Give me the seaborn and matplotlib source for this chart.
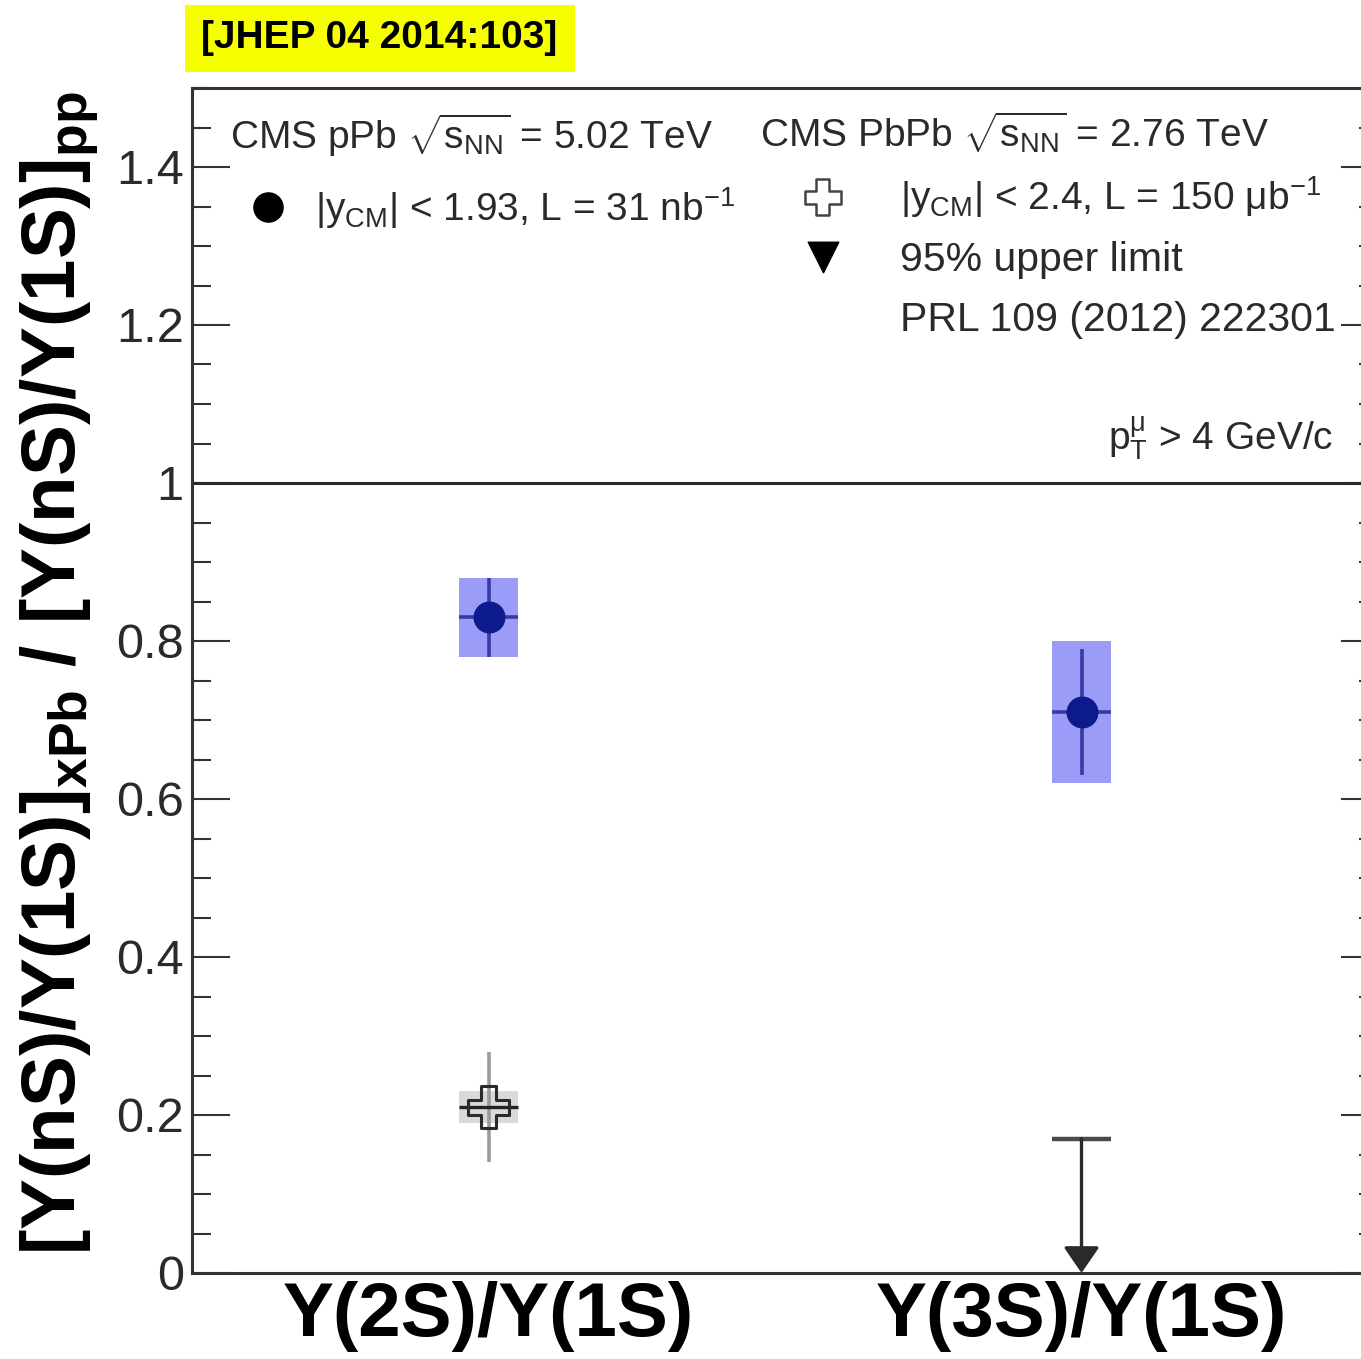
import numpy as np
import pandas as pd
import matplotlib
matplotlib.use("Agg")
import matplotlib.pyplot as plt
import seaborn as sns
from matplotlib.path import Path
from matplotlib.patches import Rectangle
from matplotlib.ticker import MultipleLocator, FuncFormatter
from matplotlib import font_manager

# ---- data: double ratios of Upsilon excited states ----
ratio_labels = ["Υ(2S)/Υ(1S)", "Υ(3S)/Υ(1S)"]

# CMS pPb, sqrt(sNN) = 5.02 TeV
ppb_ratio = [0.83, 0.71]
ppb_stat = [0.05, 0.08]
ppb_syst = [0.05, 0.09]

# CMS PbPb, sqrt(sNN) = 2.76 TeV (2S measured, 3S upper limit)
pbpb_ratio = [0.21]
pbpb_stat = [0.07]
pbpb_syst = [0.02]
pbpb_limit = [0.17]

y_major = [0.0, 0.2, 0.4, 0.6, 0.8, 1.0, 1.2, 1.4]

# ---- style ----
sns.set_theme(style="white")
plt.rcParams["font.family"] = ["Liberation Sans", "DejaVu Sans"]
plt.rcParams["mathtext.fontset"] = "custom"
plt.rcParams["mathtext.rm"] = "Liberation Sans"
plt.rcParams["mathtext.it"] = "Liberation Sans:italic"
plt.rcParams["mathtext.bf"] = "Liberation Sans:bold"

installed = {f.name for f in font_manager.fontManager.ttflist}
narrow = "Liberation Sans Narrow" if "Liberation Sans Narrow" in installed else "Liberation Sans"
cat_size = 62 if narrow == "Liberation Sans Narrow" else 55

W, H = 1361, 1359
fig = plt.figure(figsize=(W / 100, H / 100), dpi=100)
ax = fig.add_axes([192 / W, 86 / H, 1186 / W, 1185 / H])

pos = np.arange(len(ratio_labels))
box_w = 0.1

ppb = pd.DataFrame({"pos": pos, "ratio": ppb_ratio, "stat": ppb_stat, "syst": ppb_syst})
pbpb = pd.DataFrame({"pos": pos[:1], "ratio": pbpb_ratio, "stat": pbpb_stat, "syst": pbpb_syst})
lim = pd.DataFrame({"pos": pos[1:], "limit": pbpb_limit})

navy = "#0c1a8c"
bar_blue = "#3838a6"
box_blue = "#9b9cf7"

# systematic boxes
ax.bar(ppb["pos"], 2 * ppb["syst"], bottom=ppb["ratio"] - ppb["syst"], width=box_w,
       color=box_blue, edgecolor="none", zorder=2)
ax.bar(pbpb["pos"], 2 * pbpb["syst"], bottom=pbpb["ratio"] - pbpb["syst"], width=box_w,
       color="#d9d9d9", edgecolor="none", zorder=2)

# statistical bars
ax.vlines(ppb["pos"], ppb["ratio"] - ppb["stat"], ppb["ratio"] + ppb["stat"],
          color=bar_blue, lw=2.6, zorder=3)
ax.hlines(ppb["ratio"], ppb["pos"] - box_w / 2, ppb["pos"] + box_w / 2,
          color=bar_blue, lw=2.6, zorder=3)
ax.vlines(pbpb["pos"], pbpb["ratio"] - pbpb["stat"], pbpb["ratio"] + pbpb["stat"],
          color="#9a9a9a", lw=2.6, zorder=3)
ax.hlines(pbpb["ratio"], pbpb["pos"] - box_w / 2, pbpb["pos"] + box_w / 2,
          color="#222222", lw=2.4, zorder=3)

# open cross marker
a = 0.36
cross = Path([(-a, 1), (a, 1), (a, a), (1, a), (1, -a), (a, -a), (a, -1), (-a, -1),
              (-a, -a), (-1, -a), (-1, a), (-a, a), (-a, 1)], closed=True)

sns.scatterplot(data=ppb, x="pos", y="ratio", s=23 ** 2, color=navy, edgecolor=navy,
                linewidth=0, zorder=5, legend=False, ax=ax)
ax.scatter(pbpb["pos"], pbpb["ratio"], marker=cross, s=30 ** 2, facecolors="none",
           edgecolors="#2a2a2a", linewidths=2.2, zorder=5)

# 95% upper limit
ax.hlines(lim["limit"], lim["pos"] - box_w / 2, lim["pos"] + box_w / 2,
          color="#4a4a4a", lw=3.2, zorder=3)
for p, v in zip(lim["pos"], lim["limit"]):
    ax.annotate("", xy=(p, 0), xytext=(p, v),
                arrowprops=dict(arrowstyle="-|>,head_length=0.8,head_width=0.55",
                                mutation_scale=20, color="#2a2a2a", lw=2.4,
                                shrinkA=0, shrinkB=0), zorder=4)

# reference line
ax.axhline(1.0, color="#2a2a2a", lw=2.2, zorder=1)

# ---- axes ----
ax.set_xlim(-0.5, 1.5)
ax.set_ylim(0, 1.5)
ax.set_xticks(pos)
ax.set_xticklabels(ratio_labels, fontfamily=narrow, fontweight="bold", fontsize=cat_size,
                   color="black")
ax.tick_params(axis="x", length=0, pad=6)
ax.set_yticks(y_major)
ax.yaxis.set_major_formatter(FuncFormatter(lambda v, _: f"{v:g}"))
ax.yaxis.set_minor_locator(MultipleLocator(0.05))
ax.tick_params(axis="y", which="major", direction="in", length=27, width=1.5,
               left=True, right=True, labelsize=35, labelcolor="#2a2a2a",
               color="#333333", pad=6)
ax.tick_params(axis="y", which="minor", direction="in", length=14, width=1.5,
               left=True, right=True, color="#333333")
for s in ax.spines.values():
    s.set_color("#333333")
    s.set_linewidth(2.2)
ax.set_xlabel("")
ax.set_ylabel("")

fig.text(59 / W, 1 - 673 / H,
         r"[Υ(nS)/Υ(1S)]$_{\mathbf{xPb}}$ / [Υ(nS)/Υ(1S)]$_{\mathbf{pp}}$",
         rotation=90, ha="center", va="center", fontsize=55, fontweight="bold",
         color="black")

# ---- legend block ----
tc = "#2a2a2a"
fs = 28
fs2 = 29.5
tr = ax.transAxes
ax.text(0.032, 0.960, r"CMS pPb $\sqrt{\mathrm{s}_{\rm NN}}$ = 5.02 TeV", transform=tr,
        fontsize=fs, color=tc, va="center", ha="left")
ax.scatter([0.064], [0.900], transform=tr, s=21 ** 2, color="black", zorder=6)
ax.text(0.104, 0.899, r"$|\mathrm{y}_{\rm CM}|$ < 1.93, L = 31 nb$^{-1}$", transform=tr,
        fontsize=fs, color=tc, va="center", ha="left")

ax.text(0.479, 0.962, r"CMS PbPb $\sqrt{\mathrm{s}_{\rm NN}}$ = 2.76 TeV", transform=tr,
        fontsize=fs, color=tc, va="center", ha="left")
ax.scatter([0.532], [0.908], transform=tr, marker=cross, s=26 ** 2, facecolors="none",
           edgecolors="#444444", linewidths=1.8, zorder=6)
ax.text(0.597, 0.908, r"$|\mathrm{y}_{\rm CM}|$ < 2.4, L = 150 μb$^{-1}$", transform=tr,
        fontsize=fs, color=tc, va="center", ha="left")
ax.scatter([0.532], [0.857], transform=tr, marker="v", s=22 ** 2, color="black", zorder=6)
ax.text(0.597, 0.855, "95% upper limit", transform=tr,
        fontsize=fs2, color=tc, va="center", ha="left")
ax.text(0.597, 0.804, "PRL 109 (2012) 222301", transform=tr,
        fontsize=fs2, color=tc, va="center", ha="left")
ax.text(0.962, 0.705, r"p$_{\rm T}^{\rm μ}$ > 4 GeV/c", transform=tr,
        fontsize=fs, color=tc, va="center", ha="right")

# ---- journal tag ----
fig.patches.append(Rectangle((185 / W, 1 - 72 / H), 390 / W, 67 / H,
                             transform=fig.transFigure, facecolor="#f6ff00",
                             edgecolor="none", zorder=0))
fig.text(379 / W, 1 - 38.5 / H, "[JHEP 04 2014:103]", ha="center", va="center",
         fontsize=28, fontweight="bold", color="black")

fig.savefig("out.png", dpi=100)
